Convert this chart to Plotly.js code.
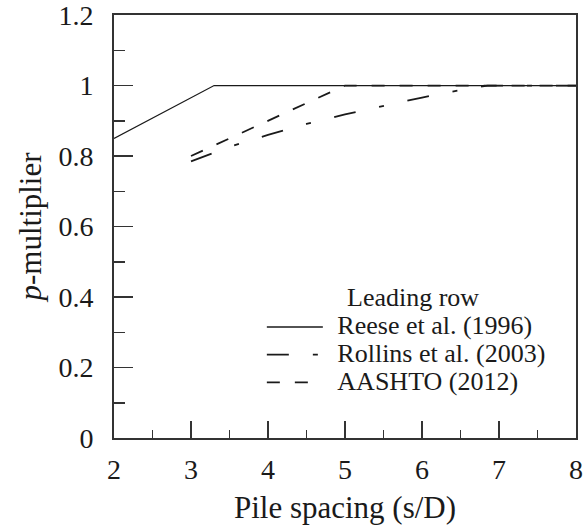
<!DOCTYPE html>
<html>
<head>
<meta charset="utf-8">
<script src="https://cdn.plot.ly/plotly-3.0.1.min.js"></script>
<style>html,body{margin:0;padding:0;background:#fff;}#chart{width:583px;height:525px;}</style>
</head>
<body>
<div id="chart"></div>
<script>
// Reese et al. (1996)
const reeseX = [2, 3.3, 8];
const reeseY = [0.85, 1.0, 1.0];
// Rollins et al. (2003)
const rollinsX = [3, 3.5, 4, 4.5, 5, 5.5, 6, 6.5, 6.85, 8];
const rollinsY = [0.785, 0.826, 0.86, 0.891, 0.918, 0.943, 0.966, 0.987, 1.0, 1.0];
// AASHTO (2012)
const aashtoX = [3, 5, 8];
const aashtoY = [0.8, 1.0, 1.0];

const seriesNames = ['Reese et al. (1996)', 'Rollins et al. (2003)', 'AASHTO (2012)'];
const legendTitle = 'Leading row';
const xTitle = 'Pile spacing (s/D)';
const yTitle = '<i>p</i>-multiplier';
const xTickVals = [2, 3, 4, 5, 6, 7, 8];
const yTickVals = [0, 0.2, 0.4, 0.6, 0.8, 1, 1.2];
const yTickText = ['0', '0.2', '0.4', '0.6', '0.8', '1', '1.2'];

const FONT = '"Liberation Serif", "Times New Roman", serif';
const INK = '#1a1a1a';
const NB = '\u00a0';

function legendName(s) {
  return NB + NB + '<span style="font-size:26px">' + s + '</span>';
}

const traces = [
  {x: reeseX, y: reeseY, name: legendName(seriesNames[0]), mode: 'lines',
   line: {color: INK, width: 1.3, dash: 'solid'}},
  {x: rollinsX, y: rollinsY, name: legendName(seriesNames[1]), mode: 'lines',
   line: {color: INK, width: 1.8, dash: '22px,24px,5px,24px'}},
  {x: aashtoX, y: aashtoY, name: legendName(seriesNames[2]), mode: 'lines',
   line: {color: INK, width: 1.8, dash: '13px,15px'}}
];

const layout = {
  width: 583, height: 525,
  margin: {l: 114, r: 7, t: 15, b: 87},
  paper_bgcolor: '#fff', plot_bgcolor: '#fff',
  font: {family: FONT, color: INK, size: 26},
  showlegend: true,
  legend: {x: 0.32, y: 0.307, xanchor: 'left', yanchor: 'top',
    bgcolor: 'rgba(0,0,0,0)', font: {family: FONT, size: 19, color: INK},
    itemwidth: 56, tracegroupgap: 0},
  annotations: [{text: legendTitle, xref: 'paper', yref: 'paper', x: 0.5, y: 0.333,
    xanchor: 'left', yanchor: 'middle', showarrow: false,
    font: {family: FONT, size: 26, color: INK}}],
  xaxis: {range: [2, 8], tickmode: 'array', tickvals: xTickVals, showgrid: false, zeroline: false,
    showline: true, mirror: true, linecolor: '#333', linewidth: 2,
    ticks: 'inside', ticklen: 17, tickwidth: 1.5, tickcolor: '#333', ticklabelstandoff: 5,
    minor: {dtick: 0.5, ticks: 'inside', ticklen: 8, tickwidth: 1.5, tickcolor: '#333', showgrid: false},
    tickfont: {family: FONT, size: 28, color: INK},
    title: {text: xTitle, font: {family: FONT, size: 31, color: INK}, standoff: 14}},
  yaxis: {range: [0, 1.2001], tickmode: 'array', tickvals: yTickVals, ticktext: yTickText,
    showgrid: false, zeroline: false,
    showline: true, mirror: true, linecolor: '#333', linewidth: 2,
    ticks: 'inside', ticklen: 19, tickwidth: 1.5, tickcolor: '#333', ticklabelstandoff: 13,
    ticklabeloverflow: 'allow',
    minor: {dtick: 0.1, ticks: 'inside', ticklen: 11, tickwidth: 1.5, tickcolor: '#333', showgrid: false},
    tickfont: {family: FONT, size: 28, color: INK},
    title: {text: NB + NB + NB + yTitle, font: {family: FONT, size: 31, color: INK}, standoff: 8}}
};

Plotly.newPlot('chart', traces, layout, {displayModeBar: false, staticPlot: true});
</script>
</body>
</html>
